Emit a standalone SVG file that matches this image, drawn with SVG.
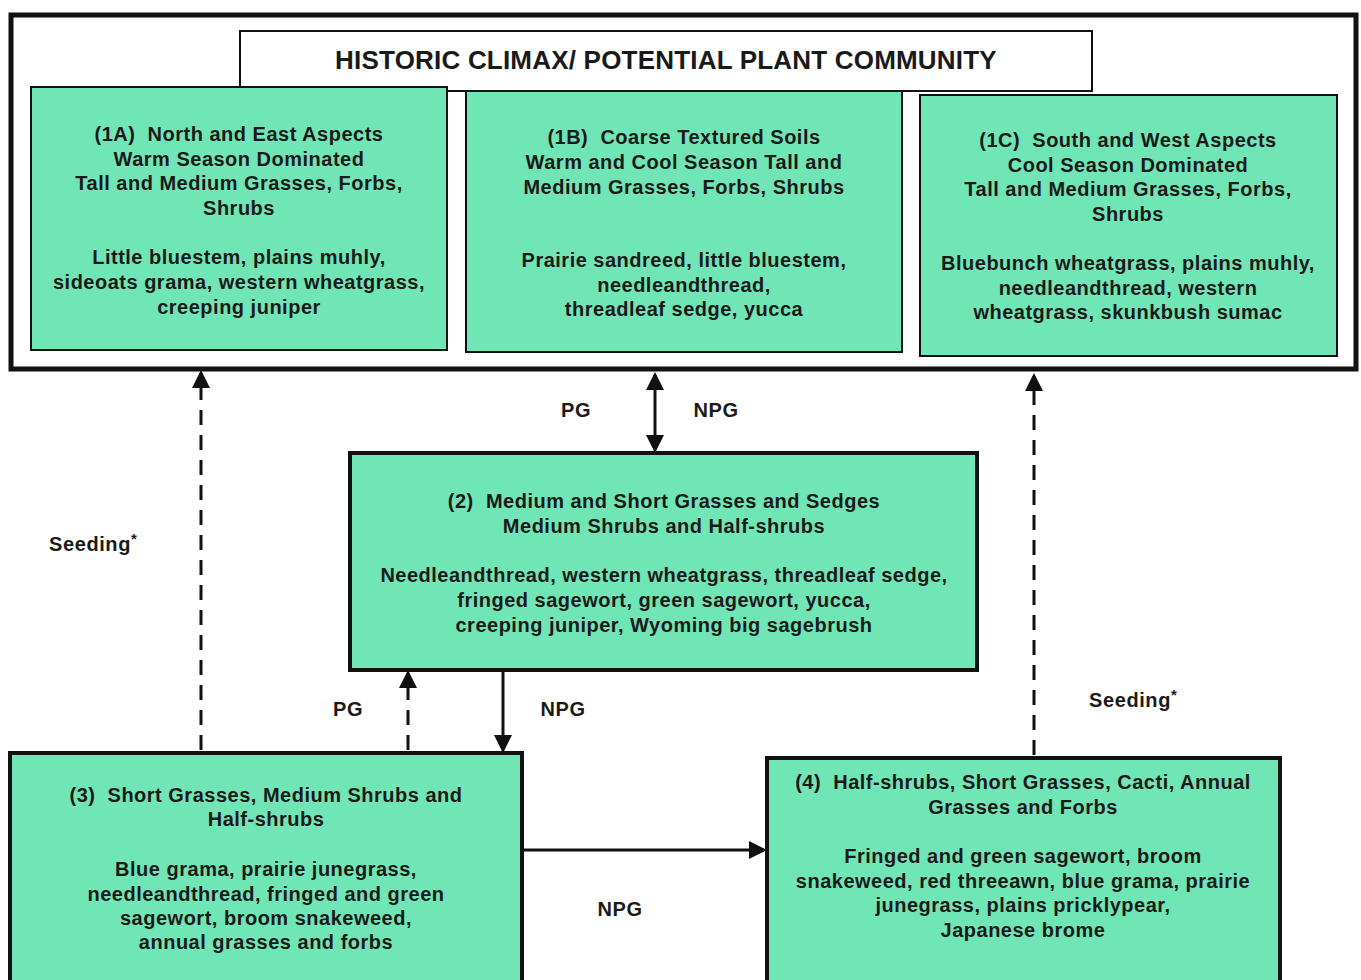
<svg xmlns="http://www.w3.org/2000/svg" width="1361" height="980" viewBox="0 0 1361 980">
<style>
.node{fill:#70e5b5;stroke:#111;}
.thin{stroke-width:2;}
.thick{stroke-width:4;}
text{font-family:"Liberation Sans",Arial,sans-serif;font-weight:bold;fill:#1a1a1a;}
.t{font-size:20px;text-anchor:middle;letter-spacing:0.5px;white-space:pre;}
.lbl{font-size:20px;text-anchor:middle;letter-spacing:0.6px;}
.seed{font-size:20px;letter-spacing:0.6px;}
.conn{stroke:#111;stroke-width:3;fill:none;}
.dash{stroke-dasharray:15 10;}
</style>
<defs>
<marker id="ah" markerWidth="6" markerHeight="6" refX="5" refY="3" orient="auto-start-reverse" markerUnits="strokeWidth">
<path d="M0,0 L6,3 L0,6 z" fill="#111"/>
</marker>
</defs>
<rect width="1361" height="980" fill="#fff"/>
<g id="outer">
<rect x="11" y="15" width="1345" height="354" fill="#fff" stroke="#111" stroke-width="5"/>
</g>
<g id="title">
<rect x="240" y="31" width="852" height="60" fill="#fff" stroke="#111" stroke-width="2"/>
<text x="666" y="69" font-size="26" letter-spacing="0.2" text-anchor="middle">HISTORIC CLIMAX/ POTENTIAL PLANT COMMUNITY</text>
</g>
<g id="n1A">
<rect class="node thin" x="31" y="87" width="416" height="263"/>
<text class="t" x="239" y="141">(1A)  North and East Aspects</text>
<text class="t" x="239" y="166">Warm Season Dominated</text>
<text class="t" x="239" y="190">Tall and Medium Grasses, Forbs,</text>
<text class="t" x="239" y="215">Shrubs</text>
<text class="t" x="239" y="264">Little bluestem, plains muhly,</text>
<text class="t" x="239" y="289">sideoats grama, western wheatgrass,</text>
<text class="t" x="239" y="314">creeping juniper</text>
</g>
<g id="n1B">
<rect class="node thin" x="466" y="91" width="436" height="261"/>
<text class="t" x="684" y="144">(1B)  Coarse Textured Soils</text>
<text class="t" x="684" y="169">Warm and Cool Season Tall and</text>
<text class="t" x="684" y="194">Medium Grasses, Forbs, Shrubs</text>
<text class="t" x="684" y="267">Prairie sandreed, little bluestem,</text>
<text class="t" x="684" y="292">needleandthread,</text>
<text class="t" x="684" y="316">threadleaf sedge, yucca</text>
</g>
<g id="n1C">
<rect class="node thin" x="920" y="95" width="417" height="261"/>
<text class="t" x="1128" y="147">(1C)  South and West Aspects</text>
<text class="t" x="1128" y="172">Cool Season Dominated</text>
<text class="t" x="1128" y="196">Tall and Medium Grasses, Forbs,</text>
<text class="t" x="1128" y="221">Shrubs</text>
<text class="t" x="1128" y="270">Bluebunch wheatgrass, plains muhly,</text>
<text class="t" x="1128" y="295">needleandthread, western</text>
<text class="t" x="1128" y="319">wheatgrass, skunkbush sumac</text>
</g>
<g id="n2">
<rect class="node thick" x="350" y="453" width="627" height="217"/>
<text class="t" x="664" y="508">(2)  Medium and Short Grasses and Sedges</text>
<text class="t" x="664" y="533">Medium Shrubs and Half-shrubs</text>
<text class="t" x="664" y="582">Needleandthread, western wheatgrass, threadleaf sedge,</text>
<text class="t" x="664" y="607">fringed sagewort, green sagewort, yucca,</text>
<text class="t" x="664" y="632">creeping juniper, Wyoming big sagebrush</text>
</g>
<g id="n3">
<rect class="node thick" x="10" y="753" width="512" height="232"/>
<text class="t" x="266" y="802">(3)  Short Grasses, Medium Shrubs and</text>
<text class="t" x="266" y="826">Half-shrubs</text>
<text class="t" x="266" y="876">Blue grama, prairie junegrass,</text>
<text class="t" x="266" y="901">needleandthread, fringed and green</text>
<text class="t" x="266" y="925">sagewort, broom snakeweed,</text>
<text class="t" x="266" y="949">annual grasses and forbs</text>
</g>
<g id="n4">
<rect class="node thick" x="767" y="758" width="513" height="227"/>
<text class="t" x="1023" y="789">(4)  Half-shrubs, Short Grasses, Cacti, Annual</text>
<text class="t" x="1023" y="814">Grasses and Forbs</text>
<text class="t" x="1023" y="863">Fringed and green sagewort, broom</text>
<text class="t" x="1023" y="888">snakeweed, red threeawn, blue grama, prairie</text>
<text class="t" x="1023" y="912">junegrass, plains pricklypear,</text>
<text class="t" x="1023" y="937">Japanese brome</text>
</g>
<g id="connectors">
<line class="conn" x1="655" y1="375" x2="655" y2="450" marker-start="url(#ah)" marker-end="url(#ah)"/>
<line class="conn dash" x1="201" y1="750" x2="201" y2="373" marker-end="url(#ah)"/>
<line class="conn dash" x1="1034" y1="755" x2="1034" y2="376" marker-end="url(#ah)"/>
<line class="conn dash" x1="408" y1="750" x2="408" y2="673" marker-end="url(#ah)"/>
<line class="conn" x1="503" y1="672" x2="503" y2="750" marker-end="url(#ah)"/>
<line class="conn" x1="524" y1="850" x2="764" y2="850" marker-end="url(#ah)"/>
</g>
<g id="labels">
<text class="lbl" x="576" y="417">PG</text>
<text class="lbl" x="716" y="417">NPG</text>
<text class="lbl" x="348" y="716">PG</text>
<text class="lbl" x="563" y="716">NPG</text>
<text class="lbl" x="620" y="916">NPG</text>
<text class="seed" x="49" y="551">Seeding<tspan dy="-7" font-size="15">*</tspan></text>
<text class="seed" x="1089" y="707">Seeding<tspan dy="-7" font-size="15">*</tspan></text>
</g>
</svg>
